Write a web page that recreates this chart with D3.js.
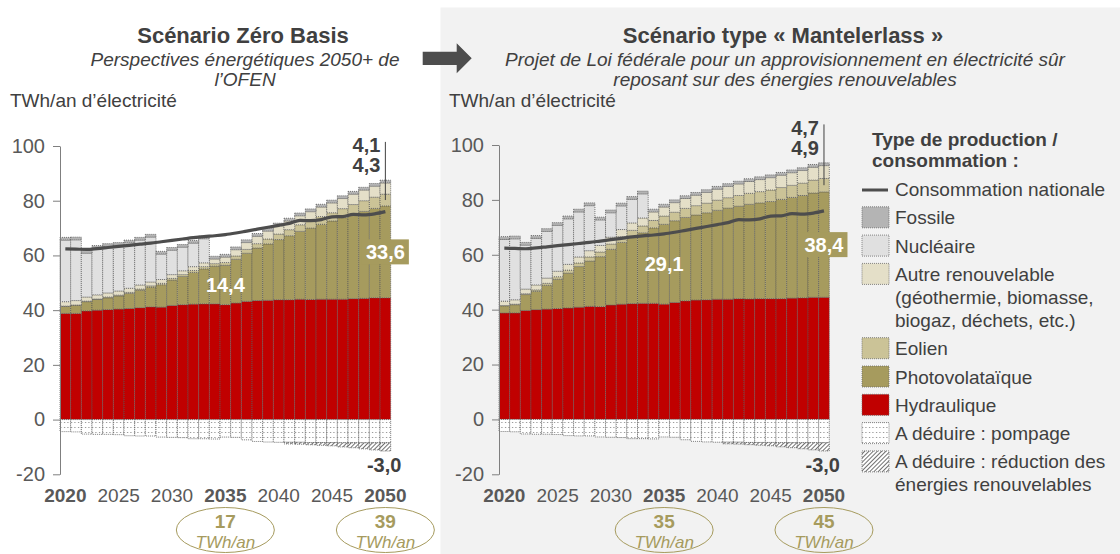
<!DOCTYPE html>
<html lang="fr">
<head>
<meta charset="utf-8">
<script src="https://cdn.jsdelivr.net/npm/d3@7/dist/d3.min.js"></script>
<style>
html,body{margin:0;padding:0;background:#fff;}
svg{display:block;font-family:"Liberation Sans",Arial,Helvetica,sans-serif;}
</style>
</head>
<body>
<svg id="chart" width="1120" height="554"></svg>
<script>
// ---------------- DATA ----------------
const years = [2020,2021,2022,2023,2024,2025,2026,2027,2028,2029,2030,2031,2032,2033,2034,2035,
               2036,2037,2038,2039,2040,2041,2042,2043,2044,2045,2046,2047,2048,2049,2050];

// shared by both scenarios (TWh/an)
const hydraulique = [38.8,38.8,39.7,40.0,40.2,40.4,40.6,40.9,41.2,41.1,41.7,42.0,42.2,42.3,42.3,42.0,
                     42.6,43.2,43.5,43.6,43.8,43.8,44.0,43.9,44.0,44.0,44.0,44.2,44.3,44.5,44.5];
const nucleaire   = [22.5,22.2,16.0,17.0,17.0,16.7,16.6,16.4,16.4,9.3,8.9,8.6,8.6,8.8,0,0,
                     0,0,0,0,0,0,0,0,0,0,0,0,0,0,0];
const fossile     = [1.0,1.0,1.0,1.0,1.0,1.0,1.0,1.0,1.0,1.0,1.0,1.0,1.0,1.0,1.0,1.0,
                     1.0,1.0,1.0,1.0,1.0,1.0,1.0,1.0,1.0,1.0,1.0,1.0,1.0,1.0,1.0];
const pompage     = [4.4,4.5,5.3,5.4,5.4,5.5,5.9,6.0,6.0,6.4,6.5,6.6,7.0,7.0,7.1,6.4,
                     6.5,7.4,8.0,8.2,8.3,8.3,8.3,8.4,8.4,8.4,8.5,8.5,8.5,8.5,8.5];
const reduction   = [0,0,0,0,0,0,0,0,0,0,0,0,0,0,0,0,
                     0,0,0,0,0,0.6,0.7,0.8,1.0,1.2,1.5,1.8,2.2,2.6,3.0];
const consommation = [62.4,62.3,62.2,62.5,62.9,63.3,63.7,64.1,64.5,65.0,65.5,66.0,66.5,66.9,67.2,67.6,
                      68.2,68.9,69.6,70.3,71.0,71.7,72.8,72.7,73.1,74.1,74.2,75.0,74.8,75.2,76.0];

// Scénario Zéro Basis
const pvZero      = [2.6,3.0,3.4,3.9,4.3,4.8,5.5,6.4,7.2,8.2,9.3,10.3,11.6,12.8,13.8,14.4,
                     16.0,17.6,19.2,20.6,22.0,23.4,24.8,26.1,27.4,28.6,29.8,30.8,31.8,32.7,33.6];
const eolienZero  = [0.1,0.1,0.2,0.2,0.3,0.3,0.4,0.4,0.5,0.5,0.6,0.7,0.7,0.8,0.9,1.0,
                     1.2,1.4,1.6,1.8,2.0,2.2,2.4,2.6,2.8,3.0,3.3,3.6,3.9,4.1,4.3];
const autreZero   = [1.6,1.6,1.5,1.5,1.5,1.5,1.5,1.5,1.4,1.4,1.4,1.4,1.4,1.4,1.7,2.0,
                     2.3,2.5,2.7,2.9,3.0,3.2,3.3,3.4,3.5,3.6,3.7,3.8,3.9,4.0,4.1];

// Scénario type « Mantelerlass »
const pvMantel     = [2.6,3.0,5.8,6.7,8.7,10.7,12.7,14.8,16.5,18.2,20.3,22.5,24.4,25.7,27.5,29.1,
                      29.8,30.4,31.0,31.7,32.4,33.2,33.7,34.5,34.9,35.4,36.2,36.7,37.3,38.0,38.4];
const eolienMantel = [0.1,0.2,0.3,0.5,0.7,0.9,1.1,1.3,1.5,1.7,1.9,2.1,2.3,2.5,2.7,3.0,
                      3.1,3.3,3.4,3.5,3.7,3.8,3.9,4.0,4.1,4.2,4.3,4.4,4.5,4.7,4.9];
const autreMantel  = [1.6,1.6,1.7,1.8,1.9,2.0,2.1,2.2,2.3,2.4,2.5,2.6,2.7,2.9,3.1,3.3,
                      3.5,3.6,3.8,3.9,4.0,4.1,4.2,4.3,4.4,4.5,4.5,4.6,4.6,4.7,4.7];

const yTicks = [-20,0,20,40,60,80,100];
const yearLabels = [2020,2025,2030,2035,2040,2045,2050];
const boldYears = [2020,2035,2050];
const ovalYears = [2035,2050];
const ovalZero = ["17","39"];
const ovalMantel = ["35","45"];
const ovalUnit = "TWh/an";

const legendItems = [
  {key:"line", lines:["Consommation nationale"]},
  {key:"fossile", lines:["Fossile"]},
  {key:"nucleaire", lines:["Nucléaire"]},
  {key:"autre", lines:["Autre renouvelable","(géothermie, biomasse,","biogaz, déchets, etc.)"]},
  {key:"eolien", lines:["Eolien"]},
  {key:"photovoltaique", lines:["Photovolataïque"]},
  {key:"hydraulique", lines:["Hydraulique"]},
  {key:"pompage", lines:["A déduire : pompage"]},
  {key:"reduction", lines:["A déduire : réduction des","énergies renouvelables"]}
];

// ---------------- STYLE ----------------
const colors = {
  hydraulique:"#C00000", photovoltaique:"#A69B5E", eolien:"#CBC397", autre:"#E4DFC8",
  nucleaire:"#E0E0E0", fossile:"#B4B4B4", pompage:"url(#dots)", reduction:"url(#hatch)"
};
const olive = "#A69B5E";
const dark = "#404040";
const grey = "#595959";
const keys = ["hydraulique","photovoltaique","eolien","autre","nucleaire","fossile","pompage","reduction"];
const fmt = v => v.toFixed(1).replace(".", ",");

const svg = d3.select("#chart");
const defs = svg.append("defs");
const dots = defs.append("pattern").attr("id","dots").attr("patternUnits","userSpaceOnUse")
  .attr("width",3.5).attr("height",5);
dots.append("rect").attr("width",3.5).attr("height",5).attr("fill","#fff");
dots.append("rect").attr("x",1).attr("y",2).attr("width",1).attr("height",1).attr("fill","#777");
const hatch = defs.append("pattern").attr("id","hatch").attr("patternUnits","userSpaceOnUse")
  .attr("width",3).attr("height",3).attr("patternTransform","rotate(45)");
hatch.append("rect").attr("width",3).attr("height",3).attr("fill","#fff");
hatch.append("line").attr("x1",0.5).attr("y1",0).attr("x2",0.5).attr("y2",3)
  .attr("stroke","#707070").attr("stroke-width",1);

// right panel background
svg.append("rect").attr("x",440.5).attr("y",7.5).attr("width",679.5).attr("height",546.5).attr("fill","#F2F2F2");

// arrow
svg.append("path").attr("d","M422.7,51.7H456.7V43.3L471.7,58.3L456.7,73.3V65H422.7Z").attr("fill","#4D4D4D");

// headers
function header(cx, title, subs) {
  svg.append("text").attr("x",cx).attr("y",42.5).attr("text-anchor","middle")
    .attr("font-size",22).attr("font-weight","bold").attr("fill",dark).text(title);
  subs.forEach((s,i)=>{
    svg.append("text").attr("x",cx+2).attr("y",66+i*19.5).attr("text-anchor","middle")
      .attr("font-size",19).attr("font-style","italic").attr("fill",dark).text(s);
  });
}
header(243, "Scénario Zéro Basis", ["Perspectives énergétiques 2050+ de","l’OFEN"]);
header(783, "Scénario type « Mantelerlass »",
  ["Projet de Loi fédérale pour un approvisionnement en électricité sûr","reposant sur des énergies renouvelables"]);

// ---------------- CHARTS ----------------
function drawChart(cfg) {
  const g = svg.append("g");
  const x = d3.scaleBand().domain(years).range([cfg.x0, cfg.x1]).padding(0);
  const bw = x.bandwidth();
  const cx = yr => x(yr) + bw/2;
  const y = d3.scaleLinear().domain([yTicks[0], yTicks[yTicks.length-1]]).range([474.3, cfg.top]);

  g.append("text").attr("x",cfg.unitX).attr("y",107).attr("font-size",19).attr("fill",dark)
    .text("TWh/an d’électricité");

  const rows = years.map((yr,i)=>({
    year:yr, hydraulique:hydraulique[i], photovoltaique:cfg.pv[i], eolien:cfg.eolien[i],
    autre:cfg.autre[i], nucleaire:nucleaire[i], fossile:fossile[i],
    pompage:-pompage[i], reduction:-reduction[i]
  }));
  const series = d3.stack().keys(keys).offset(d3.stackOffsetDiverging)(rows);

  series.forEach(s=>{
    g.append("g").selectAll("rect")
      .data(s.filter(d=>Math.abs(d[1]-d[0])>1e-9))
      .join("rect")
      .attr("x", d=>x(d.data.year))
      .attr("width", bw)
      .attr("y", d=>y(Math.max(d[0],d[1])))
      .attr("height", d=>Math.abs(y(d[0])-y(d[1])))
      .attr("fill", colors[s.key])
      .attr("stroke","#5a5a5a").attr("stroke-width",0.8).attr("stroke-dasharray","1,1");
  });

  // y axis
  const ax = g.append("g").attr("transform",`translate(${cfg.x0},0)`)
    .call(d3.axisLeft(y).tickValues(yTicks).tickSize(7).tickPadding(8).tickSizeOuter(0).tickFormat(d=>String(d)));
  ax.select(".domain").attr("stroke","#7f7f7f");
  ax.selectAll(".tick line").attr("stroke","#7f7f7f");
  ax.selectAll(".tick text").attr("font-size",20).attr("fill",grey).attr("font-family","Liberation Sans, Arial, sans-serif");

  // consumption line
  g.append("path").datum(years.map((yr,i)=>[cx(yr), y(consommation[i])]))
    .attr("d", d3.line().curve(d3.curveMonotoneX))
    .attr("fill","none").attr("stroke","#4D4D4D").attr("stroke-width",3.2).attr("stroke-linejoin","round");

  // year labels
  g.selectAll(".yl").data(yearLabels).join("text")
    .attr("x", d=>cx(d)).attr("y",502).attr("text-anchor","middle").attr("font-size",19)
    .attr("font-weight", d=>boldYears.includes(d)?"bold":"normal").attr("fill",grey).text(d=>d);

  // PV label 2035
  const i35 = years.indexOf(2035);
  g.append("text").attr("x",cx(2035)).attr("y",y(hydraulique[i35]+cfg.pv[i35]/2)).attr("dy","0.36em")
    .attr("text-anchor","middle").attr("font-size",20).attr("font-weight","bold").attr("fill","#fff")
    .text(fmt(cfg.pv[i35]));

  // PV label 2050 (boxed)
  const i50 = years.indexOf(2050);
  const ym = y(hydraulique[i50]+cfg.pv[i50]/2);
  g.append("rect").attr("x",cx(2050)-23.5).attr("y",ym-12.5).attr("width",47).attr("height",25).attr("fill",olive);
  g.append("text").attr("x",cx(2050)).attr("y",ym).attr("dy","0.36em")
    .attr("text-anchor","middle").attr("font-size",20).attr("font-weight","bold").attr("fill","#fff")
    .text(fmt(cfg.pv[i50]));

  // small labels on top of 2050
  const total50 = hydraulique[i50]+cfg.pv[i50]+cfg.eolien[i50]+cfg.autre[i50]+nucleaire[i50]+fossile[i50];
  const yTop = y(total50);
  g.append("line").attr("x1",cx(2050)).attr("x2",cx(2050))
    .attr("y1", y(total50+14)).attr("y2", y(hydraulique[i50]+cfg.pv[i50]+cfg.eolien[i50]/2))
    .attr("stroke",dark).attr("stroke-width",1);
  g.append("text").attr("x",cx(2050)-5).attr("y",yTop-28).attr("text-anchor","end")
    .attr("font-size",20).attr("font-weight","bold").attr("fill",dark).text(fmt(cfg.autre[i50]));
  g.append("text").attr("x",cx(2050)-5).attr("y",yTop-8).attr("text-anchor","end")
    .attr("font-size",20).attr("font-weight","bold").attr("fill",dark).text(fmt(cfg.eolien[i50]));

  // reduction label
  const yBot = y(-(pompage[i50]+reduction[i50]));
  g.append("text").attr("x",cx(2050)+16).attr("y",yBot+21).attr("text-anchor","end")
    .attr("font-size",20).attr("font-weight","bold").attr("fill",dark).text("-" + fmt(reduction[i50]));

  // ovals
  ovalYears.forEach((yr,k)=>{
    g.append("ellipse").attr("cx",cx(yr)).attr("cy",530).attr("rx",49).attr("ry",22.5)
      .attr("fill","none").attr("stroke",olive).attr("stroke-width",1);
    g.append("text").attr("x",cx(yr)).attr("y",528).attr("text-anchor","middle")
      .attr("font-size",19).attr("font-weight","bold").attr("fill",olive).text(cfg.ovals[k]);
    g.append("text").attr("x",cx(yr)).attr("y",548).attr("text-anchor","middle")
      .attr("font-size",17).attr("font-style","italic").attr("fill",olive).text(ovalUnit);
  });
}

drawChart({x0:60, x1:390.7, top:146, unitX:10, pv:pvZero, eolien:eolienZero, autre:autreZero, ovals:ovalZero});
drawChart({x0:499, x1:829.3, top:145, unitX:449, pv:pvMantel, eolien:eolienMantel, autre:autreMantel, ovals:ovalMantel});

// ---------------- LEGEND ----------------
const lg = svg.append("g");
lg.append("text").attr("x",872).attr("y",146).attr("font-size",19).attr("font-weight","bold").attr("fill",dark)
  .text("Type de production /");
lg.append("text").attr("x",872).attr("y",167).attr("font-size",19).attr("font-weight","bold").attr("fill",dark)
  .text("consommation :");
let yy = 196;
legendItems.forEach(item=>{
  if (item.key==="line") {
    lg.append("line").attr("x1",862).attr("x2",888).attr("y1",yy-6).attr("y2",yy-6)
      .attr("stroke","#4D4D4D").attr("stroke-width",3);
  } else {
    lg.append("rect").attr("x",862).attr("y",yy-17.5).attr("width",27).attr("height",21)
      .attr("fill",colors[item.key]).attr("stroke","#6a6a6a").attr("stroke-width",0.8).attr("stroke-dasharray","1,1");
  }
  item.lines.forEach((t,j)=>{
    lg.append("text").attr("x",895).attr("y",yy+j*23).attr("font-size",19).attr("fill",dark).text(t);
  });
  yy += 28.3 + (item.lines.length-1)*23;
});
</script>
</body>
</html>
